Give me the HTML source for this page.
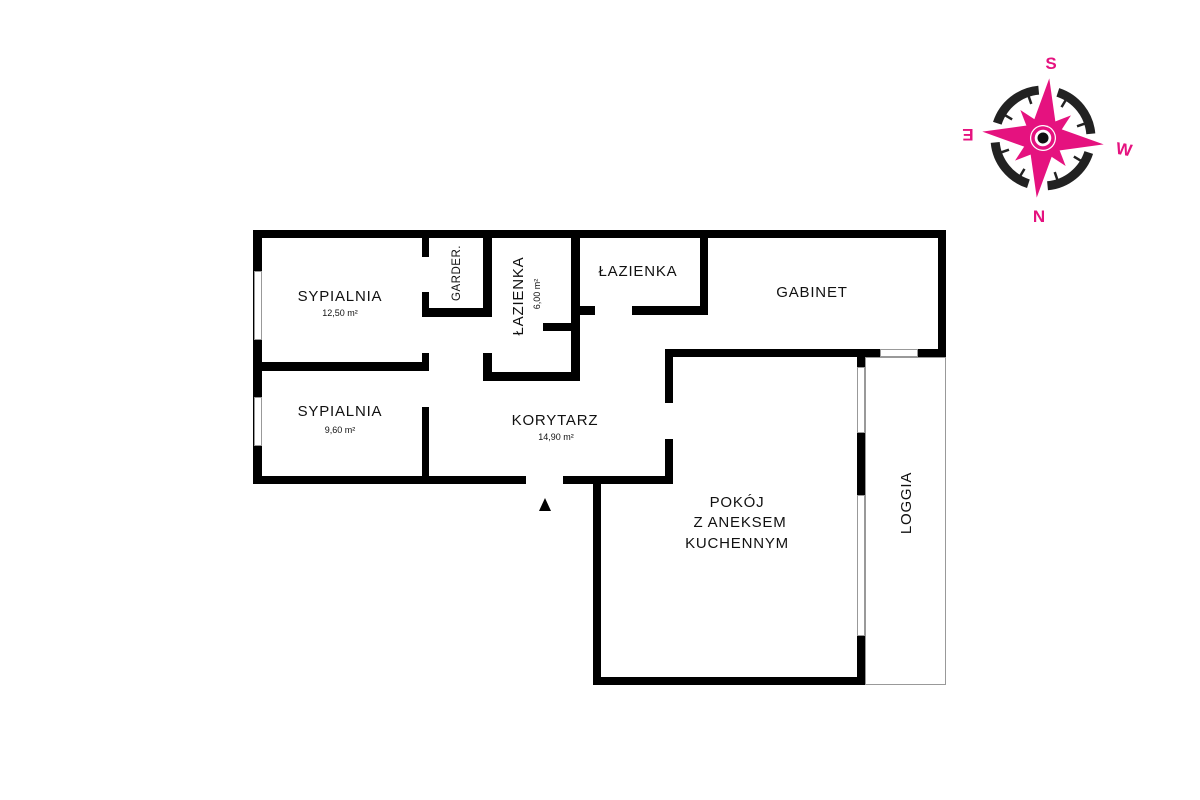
<!DOCTYPE html>
<html><head><meta charset="utf-8"><style>
html,body{margin:0;padding:0;background:#fff;width:1200px;height:800px;overflow:hidden}
svg{display:block}
text{font-family:"Liberation Sans",sans-serif;fill:#111}
.l{font-size:15px;letter-spacing:0.8px}
.s{font-size:9px}
.c{font-weight:bold;font-size:17px;fill:#e5127f}
</style></head><body>
<svg width="1200" height="800" viewBox="0 0 1200 800">
<g fill="#000">
<rect x="253" y="230" width="693" height="8"/>
<rect x="253" y="230" width="9" height="254"/>
<rect x="253" y="476" width="273" height="8"/>
<rect x="563" y="476" width="110" height="8"/>
<rect x="253" y="362" width="176" height="9"/>
<rect x="422" y="230" width="7" height="27"/>
<rect x="422" y="292" width="7" height="25"/>
<rect x="422" y="308" width="70" height="9"/>
<rect x="483" y="230" width="9" height="87"/>
<rect x="422" y="353" width="7" height="18"/>
<rect x="422" y="407" width="7" height="77"/>
<rect x="483" y="353" width="9" height="28"/>
<rect x="483" y="372" width="97" height="9"/>
<rect x="571" y="230" width="9" height="151"/>
<rect x="543" y="323" width="30" height="8"/>
<rect x="580" y="306" width="15" height="9"/>
<rect x="632" y="306" width="76" height="9"/>
<rect x="700" y="230" width="8" height="85"/>
<rect x="938" y="230" width="8" height="127"/>
<rect x="665" y="349" width="215" height="8"/>
<rect x="918" y="349" width="28" height="8"/>
<rect x="665" y="349" width="8" height="54"/>
<rect x="665" y="439" width="8" height="45"/>
<rect x="593" y="476" width="8" height="209"/>
<rect x="593" y="677" width="272" height="8"/>
<rect x="857" y="357" width="8" height="10"/>
<rect x="857" y="432" width="8" height="63"/>
<rect x="857" y="635" width="8" height="50"/>
<polygon points="545,498 551,511 539,511"/>
</g>
<g fill="#fff" stroke="#999" stroke-width="1">
<rect x="254.5" y="271.5" width="7" height="68"/>
<rect x="254.5" y="397.5" width="7" height="48"/>
<rect x="880.5" y="349.5" width="37" height="7"/>
<rect x="857.5" y="367.5" width="7" height="65"/>
<rect x="857.5" y="495.5" width="7" height="140"/>
<rect x="865.5" y="357.5" width="80" height="327" fill="none"/>
</g>
<text class="l" x="340" y="301" text-anchor="middle">SYPIALNIA</text>
<text class="s" x="340" y="316" text-anchor="middle">12,50 m²</text>
<text class="l" x="340" y="416" text-anchor="middle">SYPIALNIA</text>
<text class="s" x="340" y="433" text-anchor="middle">9,60 m²</text>
<text transform="translate(460,273) rotate(-90)" text-anchor="middle" style="font-size:11.5px;letter-spacing:0.5px">GARDER.</text>
<text class="l" transform="translate(523,296) rotate(-90)" text-anchor="middle">ŁAZIENKA</text>
<text class="s" transform="translate(540,294) rotate(-90)" text-anchor="middle">6,00 m²</text>
<text class="l" x="638" y="276" text-anchor="middle">ŁAZIENKA</text>
<text class="l" x="812" y="297" text-anchor="middle">GABINET</text>
<text class="l" x="555" y="425" text-anchor="middle">KORYTARZ</text>
<text class="s" x="556" y="440" text-anchor="middle">14,90 m²</text>
<text class="l" x="737" y="507" text-anchor="middle">POKÓJ</text>
<text class="l" x="740" y="527" text-anchor="middle">Z ANEKSEM</text>
<text class="l" x="737" y="548" text-anchor="middle">KUCHENNYM</text>
<text class="l" transform="translate(911,503) rotate(-90)" text-anchor="middle">LOGGIA</text>
<g transform="translate(1043,138) rotate(6)">
<circle r="48" fill="none" stroke="#222" stroke-width="9" stroke-dasharray="56 19.4" stroke-dashoffset="65.7"/>
<g stroke="#222" stroke-width="2.5">
<line x1="0" y1="-44" x2="0" y2="-36" transform="rotate(25)"/>
<line x1="0" y1="-44" x2="0" y2="-36" transform="rotate(65)"/>
<line x1="0" y1="-44" x2="0" y2="-36" transform="rotate(115)"/>
<line x1="0" y1="-44" x2="0" y2="-36" transform="rotate(155)"/>
<line x1="0" y1="-44" x2="0" y2="-36" transform="rotate(205)"/>
<line x1="0" y1="-44" x2="0" y2="-36" transform="rotate(245)"/>
<line x1="0" y1="-44" x2="0" y2="-36" transform="rotate(295)"/>
<line x1="0" y1="-44" x2="0" y2="-36" transform="rotate(335)"/>
</g>
<g fill="#e5127f">
<polygon points="0,-36 9,-8 -9,-8" transform="rotate(45)"/>
<polygon points="0,-36 9,-8 -9,-8" transform="rotate(135)"/>
<polygon points="0,-36 9,-8 -9,-8" transform="rotate(225)"/>
<polygon points="0,-36 9,-8 -9,-8" transform="rotate(315)"/>
<polygon points="0,-60 12,-12 61,0 12,12 0,60 -12,12 -61,0 -12,-12"/>
</g>
<circle r="13" fill="#fff"/>
<circle r="10" fill="none" stroke="#e5127f" stroke-width="3.5"/>
<circle r="5.5" fill="#111"/>
</g>
<text class="c" x="1051" y="69" text-anchor="middle">S</text>
<text class="c" x="1039" y="222" text-anchor="middle">N</text>
<text class="c" transform="translate(1123,155) rotate(10)" text-anchor="middle">W</text>
<text class="c" transform="translate(968,129) rotate(180)" text-anchor="middle">E</text>
</svg>
</body></html>
